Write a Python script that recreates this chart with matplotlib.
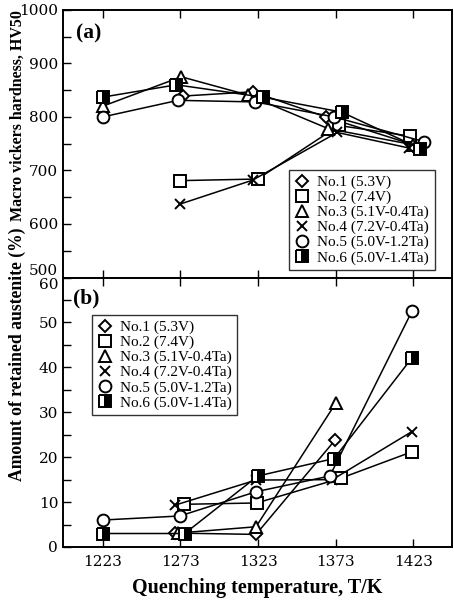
import matplotlib
matplotlib.use("Agg")
import matplotlib.pyplot as plt
from matplotlib.ticker import MultipleLocator

# Temperaturas de temple (K) y etiquetas de las aleaciones
TEMPS = [1223, 1273, 1323, 1373, 1423]
ETIQUETAS = ["No.1 (5.3V)", "No.2 (7.4V)", "No.3 (5.1V-0.4Ta)",
             "No.4 (7.2V-0.4Ta)", "No.5 (5.0V-1.2Ta)", "No.6 (5.0V-1.4Ta)"]

# (a) dureza HV50 -- x (puntos algo desplazados)
a1_x = [1274.7, 1319.6, 1366.6, 1423]
a1_y = [839, 847, 800, 748]
a2_x = [1272.6, 1322.8, 1375.1, 1421]
a2_y = [681, 684, 784, 764]
a3_x = [1223, 1273.6, 1316.4, 1368.3, 1423]
a3_y = [820, 875, 841, 778, 748]
a4_x = [1272.6, 1319.6, 1374, 1420]
a4_y = [637, 682, 771, 742]
a5_x = [1223, 1271.5, 1321.3, 1372, 1429.6]
a5_y = [800, 831, 828, 800, 754]
a6_x = [1223, 1270.4, 1326, 1376.8, 1427.5]
a6_y = [837, 860, 837, 809, 741]
A_YTICKS = [500, 600, 700, 800, 900, 1000]

# (b) austenita retenida (%)
b1_x = [1269.4, 1321.7, 1372.6]
b1_y = [3.1, 2.8, 23.8]
b2_x = [1275.1, 1322.1, 1376.2, 1422.1]
b2_y = [9.5, 9.8, 15.3, 21.2]
b3_x = [1271.5, 1321.7, 1373]
b3_y = [3.1, 4.5, 32.0]
b4_x = [1269.4, 1321.7, 1370.9, 1422.1]
b4_y = [9.3, 14.9, 15.0, 25.7]
b5_x = [1223, 1272.6, 1321.7, 1369.2, 1422.1]
b5_y = [6.0, 6.9, 12.3, 15.8, 52.5]
b6_x = [1223, 1275.8, 1322.8, 1372, 1422.1]
b6_y = [3.0, 3.0, 15.8, 19.7, 42.1]
B_YTICKS = [0, 10, 20, 30, 40, 50, 60]

SERIF = ["Liberation Serif", "DejaVu Serif"]

ESTILOS = [
    dict(marker="D", ms=6.2, mfc="white"),
    dict(marker="s", ms=8, mfc="white"),
    dict(marker="^", ms=8.5, mfc="white"),
    dict(marker="x", ms=7.5),
    dict(marker="o", ms=8.5, mfc="white"),
    dict(marker="s", ms=8, mfc="white", fillstyle="left", markerfacecoloralt="black"),
]


def graficar_panel(ax, series, letra, pos_letra):
    for (x, y), est, lab in zip(series, ESTILOS, ETIQUETAS):
        ax.plot(x, y, color="black", lw=1.1, mec="black", mew=1.4, label=lab, **est)
    ax.set_xlim(1197.5, 1448)
    ax.set_xticks(TEMPS)
    ax.tick_params(axis="both", which="both", direction="in", right=False,
                   top=True, labelsize=11, width=1.0, length=5.8)
    ax.tick_params(axis="x", which="minor", top=False, bottom=False)
    ax.tick_params(axis="x", which="major", pad=6)
    for s in ax.spines.values():
        s.set_linewidth(1.4)
    ax.text(pos_letra[0], pos_letra[1], letra, transform=ax.transAxes, fontsize=15.5,
            fontweight="bold", family=SERIF, va="top", ha="left")


def fijar_yticks(ax, ticks, paso_menor):
    ax.set_yticks(ticks)
    ax.set_yticklabels([str(t) for t in ticks])
    ax.yaxis.set_minor_locator(MultipleLocator(paso_menor))
    for lab in ax.get_xticklabels() + ax.get_yticklabels():
        lab.set_family("DejaVu Serif")


fig = plt.figure(figsize=(4.54, 6.02), dpi=100)
ax_a = fig.add_axes([0.139, 0.539, 0.857, 0.4446])
ax_b = fig.add_axes([0.139, 0.0914, 0.857, 0.4476])

graficar_panel(ax_a, [(a1_x, a1_y), (a2_x, a2_y), (a3_x, a3_y),
                      (a4_x, a4_y), (a5_x, a5_y), (a6_x, a6_y)], "(a)", (0.033, 0.951))
ax_a.set_ylim(500, 1000)
fijar_yticks(ax_a, A_YTICKS, 50)
ax_a.get_yticklabels()[0].set_va("bottom")
ax_a.tick_params(axis="x", labelbottom=False, bottom=True)
ax_a.set_ylabel("Macro vickers hardness, HV50", fontsize=11.5,
                fontweight="bold", family=SERIF)

graficar_panel(ax_b, [(b1_x, b1_y), (b2_x, b2_y), (b3_x, b3_y),
                      (b4_x, b4_y), (b5_x, b5_y), (b6_x, b6_y)], "(b)", (0.026, 0.961))
ax_b.set_ylim(0, 60)
fijar_yticks(ax_b, B_YTICKS, 5)
ax_b.get_yticklabels()[-1].set_va("top")
ax_b.set_ylabel("Amount of retained austenite (%)", fontsize=12.7,
                fontweight="bold", family=SERIF)
ax_b.set_xlabel("Quenching temperature, T/K", fontsize=14.5,
                fontweight="bold", family=SERIF, labelpad=6)
ax_a.yaxis.set_label_coords(-0.096, 0.604)
ax_b.yaxis.set_label_coords(-0.096, 0.716)

for ax, ancla in [(ax_a, (0.581, 0.402)), (ax_b, (0.0745, 0.861))]:
    leg = ax.legend(loc="upper left", bbox_to_anchor=ancla, frameon=True,
                    fancybox=False, edgecolor="black", borderpad=0.35,
                    labelspacing=0.08, handlelength=1.0, handletextpad=0.5,
                    borderaxespad=0, prop={"family": SERIF, "size": 11})
    leg.get_frame().set_linewidth(1.0)
    for h in leg.get_lines():
        h.set_linestyle("none")

fig.savefig("out.png", dpi=100)
